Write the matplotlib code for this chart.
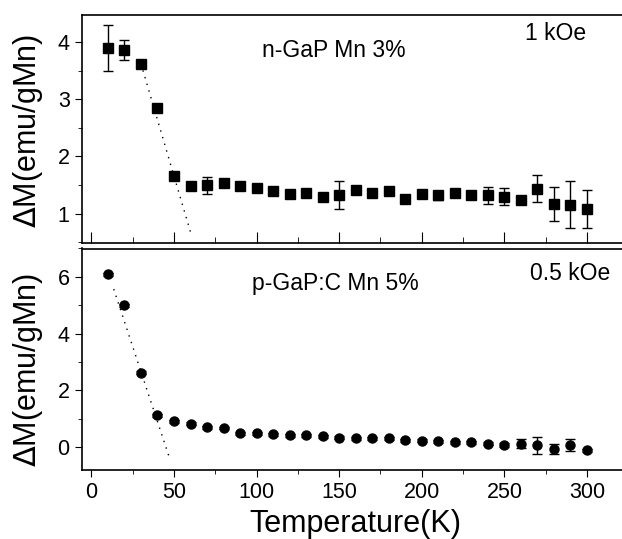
import numpy as np
import matplotlib
matplotlib.use('Agg')
import matplotlib.pyplot as plt
from matplotlib.ticker import MultipleLocator

plt.rcParams['font.family'] = ['Liberation Sans', 'DejaVu Sans']

# temperatures (K)
temp = [10, 20, 30, 40, 50, 60, 70, 80, 90, 100, 110, 120, 130, 140, 150,
        160, 170, 180, 190, 200, 210, 220, 230, 240, 250, 260, 270, 280, 290, 300]

# n-GaP Mn 3%, 1 kOe
dm_n = [3.90, 3.86, 3.62, 2.84, 1.66, 1.49, 1.50, 1.54, 1.49, 1.45, 1.39, 1.34, 1.36, 1.29, 1.33,
        1.42, 1.36, 1.40, 1.26, 1.35, 1.32, 1.37, 1.33, 1.32, 1.30, 1.24, 1.44, 1.17, 1.16, 1.08]
err_n = [0.40, 0.17, 0.04, 0.05, 0.07, 0.07, 0.15, 0.04, 0.03, 0.03, 0.03, 0.03, 0.03, 0.03, 0.24,
         0.03, 0.03, 0.03, 0.06, 0.04, 0.08, 0.04, 0.03, 0.15, 0.15, 0.06, 0.24, 0.29, 0.41, 0.33]

# p-GaP:C Mn 5%, 0.5 kOe
dm_p = [6.09, 5.00, 2.63, 1.13, 0.91, 0.83, 0.71, 0.68, 0.50, 0.50, 0.46, 0.42, 0.42, 0.39, 0.34,
        0.31, 0.31, 0.31, 0.24, 0.23, 0.21, 0.17, 0.17, 0.13, 0.08, 0.13, 0.07, -0.05, 0.08, -0.10]
err_p = [0.05, 0.05, 0.05, 0.05, 0.05, 0.05, 0.05, 0.05, 0.05, 0.05, 0.05, 0.05, 0.05, 0.05, 0.05,
         0.05, 0.05, 0.05, 0.05, 0.05, 0.05, 0.05, 0.05, 0.05, 0.08, 0.16, 0.29, 0.17, 0.22, 0.05]

# linear fits (dotted)
fit_n_t = [30, 60.5]
fit_n_m = [3.62, 0.63]
fit_p_t = [13.5, 47.4]
fit_p_m = [5.57, -0.40]

fig = plt.figure(figsize=(6.22, 5.39), dpi=100)
ax1 = fig.add_axes([81.5/622, 1-243/539, 541/622, 228/539])
ax2 = fig.add_axes([81.5/622, 1-470/539, 541/622, 221.5/539])

ax1.errorbar(temp, dm_n, yerr=err_n, fmt='s', color='black', ms=6.5,
             capsize=3.5, elinewidth=1, capthick=1)
ax1.plot(fit_n_t, fit_n_m, color='black', lw=1, ls=(0, (1, 4)))
ax2.errorbar(temp, dm_p, yerr=err_p, fmt='o', color='black', ms=6.5,
             capsize=3.5, elinewidth=1, capthick=1)
ax2.plot(fit_p_t, fit_p_m, color='black', lw=1, ls=(0, (1, 4)))

for ax in (ax1, ax2):
    ax.set_xlim(-6, 321.5)
    ax.xaxis.set_major_locator(MultipleLocator(50))
    ax.xaxis.set_minor_locator(MultipleLocator(25))
    ax.spines['right'].set_visible(False)
    for s in ax.spines.values():
        s.set_linewidth(1.2)
    ax.tick_params(axis='y', which='major', direction='out', length=5, labelsize=15.5)
    ax.tick_params(axis='y', which='minor', direction='out', length=3)

ax1.set_ylim(0.49, 4.47)
ax1.yaxis.set_major_locator(MultipleLocator(1))
ax1.yaxis.set_minor_locator(MultipleLocator(0.5))
ax1.tick_params(axis='x', which='major', direction='in', length=8, labelbottom=False)
ax1.tick_params(axis='x', which='minor', direction='in', length=4)

ax2.set_ylim(-0.8, 7.0)
ax2.yaxis.set_major_locator(MultipleLocator(2))
ax2.yaxis.set_minor_locator(MultipleLocator(1))
ax2.tick_params(axis='x', which='major', direction='out', length=5, labelsize=15.5, pad=4)
ax2.tick_params(axis='x', which='minor', direction='out', length=3)

ax1.text(0.334, 0.846, 'n-GaP Mn 3%', transform=ax1.transAxes, fontsize=16.5, va='center')
ax1.text(0.82, 0.917, '1 kOe', transform=ax1.transAxes, fontsize=16.5, va='center')
ax2.text(0.315, 0.844, 'p-GaP:C Mn 5%', transform=ax2.transAxes, fontsize=16.5, va='center')
ax2.text(0.829, 0.889, '0.5 kOe', transform=ax2.transAxes, fontsize=16.5, va='center')

fig.text(28/622, 1-131/539, r'$\Delta$M(emu/gMn)', rotation=90, ha='center', va='center', fontsize=22)
fig.text(28/622, 1-370/539, r'$\Delta$M(emu/gMn)', rotation=90, ha='center', va='center', fontsize=22)
fig.text(355/622, 1-524/539, 'Temperature(K)', ha='center', va='center', fontsize=22)

fig.savefig('out.png', dpi=100)
